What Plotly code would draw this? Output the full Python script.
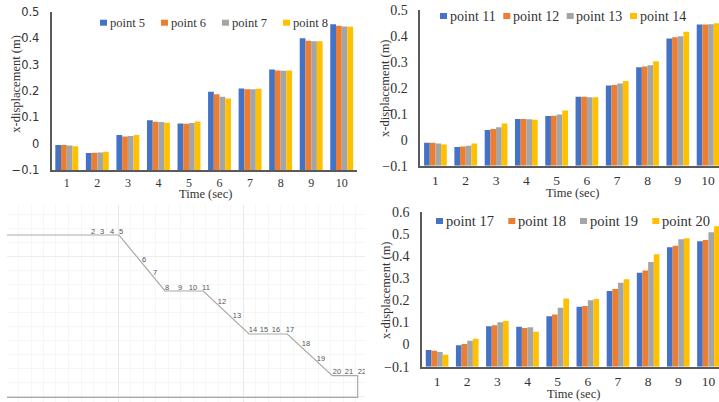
import plotly.graph_objects as go

W, H = 719, 402
times = [str(i) for i in range(1, 11)]
colors = ["#4472C4", "#ED7D31", "#A5A5A5", "#FFC000"]

names_a = ["point 5", "point 6", "point 7", "point 8"]
point_5 = [-0.005, -0.036, 0.033, 0.089, 0.076, 0.197, 0.209, 0.281, 0.399, 0.452]
point_6 = [-0.005, -0.035, 0.027, 0.083, 0.075, 0.187, 0.206, 0.277, 0.390, 0.447]
point_7 = [-0.007, -0.034, 0.029, 0.082, 0.078, 0.178, 0.206, 0.276, 0.388, 0.444]
point_8 = [-0.010, -0.031, 0.033, 0.079, 0.084, 0.171, 0.208, 0.277, 0.388, 0.443]

names_b = ["point 11", "point 12", "point 13", "point 14"]
point_11 = [-0.011, -0.028, 0.038, 0.080, 0.092, 0.166, 0.210, 0.280, 0.391, 0.445]
point_12 = [-0.011, -0.026, 0.042, 0.080, 0.093, 0.166, 0.212, 0.283, 0.396, 0.445]
point_13 = [-0.014, -0.023, 0.048, 0.079, 0.098, 0.164, 0.217, 0.288, 0.400, 0.446]
point_14 = [-0.018, -0.014, 0.063, 0.077, 0.113, 0.164, 0.227, 0.303, 0.417, 0.450]

names_c = ["point 17", "point 18", "point 19", "point 20"]
point_17 = [-0.025, -0.003, 0.083, 0.080, 0.128, 0.171, 0.242, 0.324, 0.439, 0.467]
point_18 = [-0.028, 0.003, 0.087, 0.075, 0.136, 0.174, 0.251, 0.335, 0.446, 0.472]
point_19 = [-0.034, 0.017, 0.101, 0.078, 0.166, 0.200, 0.279, 0.373, 0.476, 0.507]
point_20 = [-0.046, 0.026, 0.106, 0.058, 0.208, 0.206, 0.295, 0.408, 0.480, 0.534]

# Slope profile (model outline and node labels)
profile_x = [7, 119, 165, 203.3, 249, 287.3, 332.3, 357.7, 357.7, 7]
profile_y = [235, 235, 291, 291, 334, 334, 375.7, 375.7, 397.3, 397.3]
node_labels = [str(i) for i in range(2, 23)]
node_x = [93, 102, 112, 121, 144, 155, 167, 180, 193, 206, 222, 237, 253, 264, 276, 290, 306, 321, 337, 349, 362]
node_y = [232, 232, 232, 232, 260, 273, 288, 288, 288, 288, 302, 316, 330, 330, 330, 330, 344, 359, 372, 372, 372]
grid_major_x = [118.3, 243]
grid_minor_x = [18.3, 31, 43, 55.7, 68, 81, 93, 106, 130.5, 143, 155.5, 168, 180.5, 193, 205.5, 218, 230.5,
                255.5, 268, 280.5, 293, 305.5, 318, 330.5, 343, 355.5]
grid_major_y = [256, 396]
grid_minor_y = [214, 228, 242, 270, 284, 298, 312, 326, 340, 354, 368, 382]

fig = go.Figure()
shapes, annots = [], []


def dom_x(a, b):
    return [a / W, b / W]


def dom_y(top, bottom):
    return [1 - bottom / H, 1 - top / H]


def add_chart(idx, names, series, xdom, ydom, xrange, yrange, key, tick_font, xtick_size, xstand, ystand):
    sfx = "" if idx == 1 else str(idx)
    base = yrange[0]
    for name, vals, col in zip(names, series, colors):
        fig.add_trace(go.Bar(
            x=list(range(1, 11)), y=[v - base for v in vals], base=base, name=name,
            marker=dict(color=col, line=dict(width=0)),
            xaxis="x" + sfx, yaxis="y" + sfx, showlegend=False,
        ))
    fig.layout["xaxis" + sfx] = dict(
        domain=dom_x(*xdom), range=xrange, tickmode="array",
        tickvals=list(range(1, 11)), ticktext=times,
        showgrid=False, zeroline=False, showline=True, linecolor="#5a5a5a", linewidth=1.5,
        ticks="", tickfont=dict(family="Liberation Serif", size=xtick_size, color="#333"),
        ticklabelstandoff=xstand, anchor="y" + sfx,
    )
    fig.layout["yaxis" + sfx] = dict(
        domain=dom_y(*ydom), range=yrange, dtick=0.1, tickformat="~g",
        showgrid=False, zeroline=False, showline=True, linecolor="#5a5a5a", linewidth=1.5,
        ticks="", tickfont=tick_font, ticklabelstandoff=ystand, anchor="x" + sfx,
    )
    swatch_xs, swatch_y, fsize = key
    for name, sx, col in zip(names, swatch_xs, colors):
        shapes.append(dict(type="rect", xref="paper", yref="paper",
                           x0=sx / W, x1=(sx + 7) / W,
                           y0=1 - (swatch_y + 3) / H, y1=1 - (swatch_y - 3) / H,
                           fillcolor=col, line=dict(width=0)))
        annots.append(dict(text=name, x=(sx + 7.5) / W, y=1 - swatch_y / H,
                           xref="paper", yref="paper", showarrow=False,
                           xanchor="left", yanchor="middle",
                           font=dict(family="Liberation Serif", size=fsize, color="#333")))


serif = dict(family="Liberation Serif", size=14, color="#333")
sans = dict(family="DejaVu Sans", size=11.5, color="#333")

add_chart(1, names_a, [point_5, point_6, point_7, point_8],
          (51.5, 357), (11.7, 170), [0.5, 10.5], [-0.1, 0.5],
          ([100, 161, 222, 283], 22.7, 12.5), sans, 12, 1, 8)
add_chart(2, names_b, [point_11, point_12, point_13, point_14],
          (420.3, 719), (10.3, 165.7), [0.5, 10.36], [-0.1, 0.5],
          ([440, 503.3, 566.7, 630], 16, 14), serif, 13.5, 1, 8)
add_chart(3, names_c, [point_17, point_18, point_19, point_20],
          (422, 719), (211.7, 366.7), [0.5, 10.35], [-0.1, 0.6],
          ([436, 508.3, 580, 652.3], 221, 14.5), serif, 13.5, 1, 8)

# Slope diagram panel
fig.add_trace(go.Scatter(
    x=profile_x, y=profile_y, mode="lines", line=dict(color="#a9a9a9", width=1.2),
    xaxis="x4", yaxis="y4", showlegend=False, hoverinfo="skip",
))
fig.add_trace(go.Scatter(
    x=node_x, y=node_y, mode="text", text=node_labels, textposition="middle center",
    textfont=dict(family="Liberation Sans", size=7.5, color="#555"),
    xaxis="x4", yaxis="y4", showlegend=False, hoverinfo="skip",
))
fig.update_layout(
    xaxis4=dict(domain=dom_x(7, 365), range=[7, 365], showticklabels=False, ticks="",
                tickmode="array", tickvals=grid_major_x, showgrid=True, gridcolor="#e9e9e9",
                gridwidth=1, zeroline=False, showline=False, anchor="y4",
                minor=dict(tickmode="array", tickvals=grid_minor_x, showgrid=True,
                           gridcolor="#f6f6f6", gridwidth=1, ticks="")),
    yaxis4=dict(domain=dom_y(205, 402), range=[402, 205], showticklabels=False, ticks="",
                tickmode="array", tickvals=grid_major_y, showgrid=True, gridcolor="#ececec",
                gridwidth=1, zeroline=False, showline=False, anchor="x4",
                minor=dict(tickmode="array", tickvals=grid_minor_y, showgrid=True,
                           gridcolor="#f6f6f6", gridwidth=1, ticks="")),
)

titles = [
    ("x-displacement (m)", 15.7, 84, -90), ("Time (sec)", 205, 194, 0),
    ("x-displacement (m)", 385, 88, -90), ("Time (sec)", 572, 192.5, 0),
    ("x-displacement (m)", 386, 290, -90), ("Time (sec)", 573, 394, 0),
]
annots += [
    dict(text=t, x=x / W, y=1 - y / H, xref="paper", yref="paper", showarrow=False,
         textangle=a, xanchor="center", yanchor="middle",
         font=dict(family="Liberation Serif", size=12.5, color="#333"))
    for t, x, y, a in titles
]

fig.update_layout(
    annotations=annots, shapes=shapes,
    width=W, height=H, margin=dict(l=0, r=0, t=0, b=0, autoexpand=False), autosize=False,
    barmode="group", bargap=0.25, bargroupgap=0, showlegend=False,
    paper_bgcolor="white", plot_bgcolor="rgba(0,0,0,0)",
)
fig.write_html("out.html", config=dict(displayModeBar=False),
               post_script="document.body.style.margin='0';document.documentElement.style.overflow='hidden';")
